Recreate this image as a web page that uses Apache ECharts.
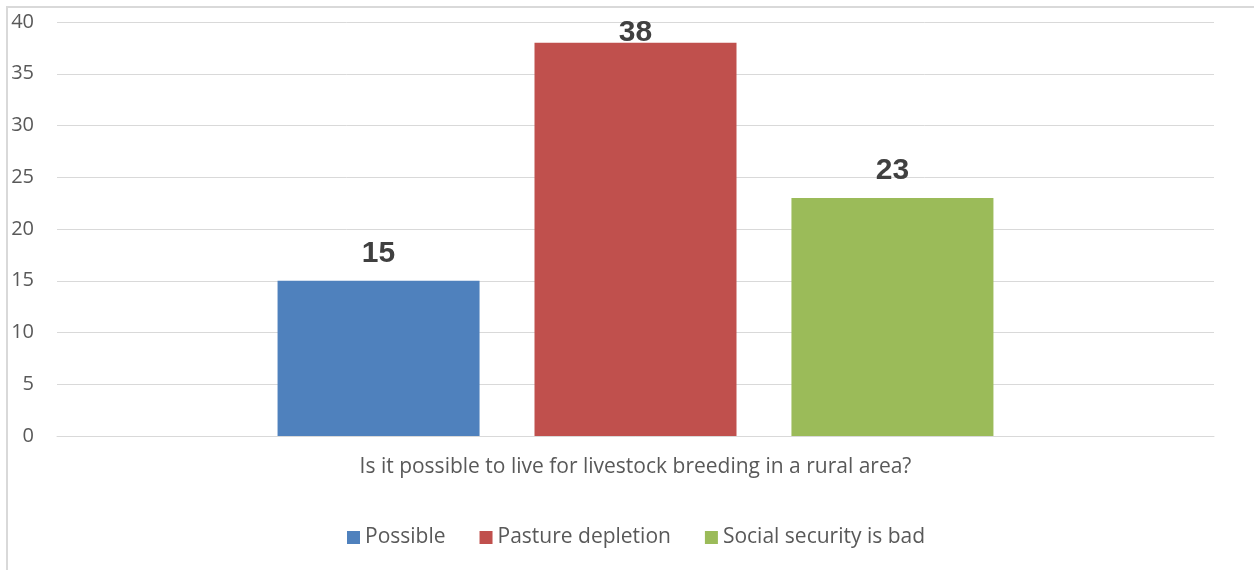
<!DOCTYPE html>
<html>
<head>
<meta charset="utf-8">
<title>Livestock breeding in a rural area</title>
<script src="https://cdn.jsdelivr.net/npm/echarts@6/dist/echarts.min.js"></script>
<style>
  html, body { margin: 0; padding: 0; background: #ffffff; }
  #chart { width: 1254px; height: 570px; }
</style>
</head>
<body>
<div id="chart"></div>
<script>
// Survey question shown under the axis, answers and counts
const categories = ['Is it possible to live for livestock breeding in a rural area?'];
const seriesNames = ['Possible', 'Pasture depletion', 'Social security is bad'];
const seriesValues = [15, 38, 23];
const seriesColors = ['#4f81bd', '#c0504d', '#9bbb59'];
const yTicks = { min: 0, max: 40, interval: 5 };

const labelFont = '"Open Sans", "DejaVu Sans", sans-serif';
const chart = echarts.init(document.getElementById('chart'), null, { renderer: 'canvas' });

const series = seriesNames.map(function (name, i) {
  const v = seriesValues[i];
  // the tallest bar's label is kept inside the plot area
  const item = v >= 36 ? { value: v, label: { offset: [0, 17] } } : { value: v };
  return {
    name: name,
    type: 'bar',
    data: [item],
    barWidth: 202,
    barGap: '27.2%',
    itemStyle: { color: seriesColors[i] },
    label: {
      show: true,
      position: 'top',
      distance: 12,
      fontFamily: '"Liberation Sans", Arial, sans-serif',
      fontWeight: 'bold',
      fontSize: 30,
      color: '#404040'
    }
  };
});

chart.setOption({
  animation: false,
  backgroundColor: '#ffffff',
  grid: { left: 57, right: 40, top: 22, bottom: 134, containLabel: false },
  graphic: [{
    type: 'rect',
    shape: { x: 7, y: 7, width: 1300, height: 700 },
    style: { fill: 'none', stroke: '#d9d9d9', lineWidth: 2 },
    silent: true
  }],
  legend: {
    bottom: 17,
    left: 342,
    itemWidth: 13,
    itemHeight: 13,
    itemGap: 34,
    icon: 'rect',
    textStyle: { fontFamily: labelFont, fontSize: 21, color: '#595959' },
    data: seriesNames
  },
  xAxis: {
    type: 'category',
    data: categories,
    axisLine: { show: true, lineStyle: { color: '#d9d9d9', width: 1 } },
    axisTick: { show: false },
    axisLabel: { fontFamily: labelFont, fontSize: 21, color: '#595959', margin: 21 }
  },
  yAxis: {
    type: 'value',
    min: yTicks.min,
    max: yTicks.max,
    interval: yTicks.interval,
    axisLine: { show: false },
    axisTick: { show: false },
    splitLine: { lineStyle: { color: '#d9d9d9', width: 1 } },
    axisLabel: { fontFamily: labelFont, fontSize: 20, color: '#595959', margin: 23 }
  },
  series: series
});
</script>
</body>
</html>
